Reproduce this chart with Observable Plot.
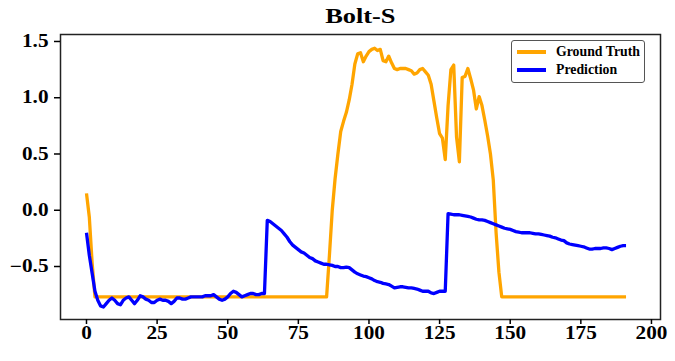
<!DOCTYPE html>
<html>
<head>
<meta charset="utf-8">
<script src="https://cdn.jsdelivr.net/npm/d3@7"></script>
<script src="https://cdn.jsdelivr.net/npm/@observablehq/plot@0.6"></script>
<style>
  html, body { margin: 0; padding: 0; background: #fff; }
  #wrap { position: relative; width: 675px; height: 361px; font-family: "Liberation Serif", "DejaVu Serif", serif; }
  #title { height: 30px; width: 675px; text-align: center; font-weight: bold; font-size: 22px; line-height: 32px; padding-left: 45px; box-sizing: border-box; }
  #title span { display: inline-block; transform: scaleX(1.2); }
  #legend { position: absolute; left: 511px; top: 40px; width: 134px; height: 43px; border: 1px solid #555; border-radius: 3px; background: #fff; font-weight: bold; font-size: 13.8px; box-sizing: border-box; }
  .item { position: absolute; left: 5px; display: flex; align-items: center; }
  .sw { width: 29px; height: 3.5px; margin-right: 10px; }
  #chart svg text { font-size: 18px !important; font-weight: bold; fill: #000; }
</style>
</head>
<body>
<div id="wrap">
  <div id="title"><span>Bolt-S</span></div>
  <div id="chart"></div>
  <div id="legend">
    <div class="item" style="top:3px"><div class="sw" style="background:#FFA500"></div><span>Ground Truth</span></div>
    <div class="item" style="top:21px"><div class="sw" style="background:#0000FF"></div><span>Prediction</span></div>
  </div>
</div>
<script>
const seriesNames = ["Ground Truth", "Prediction"];
const seriesColors = ["#FFA500", "#0000FF"];
const xTicks = [0, 25, 50, 75, 100, 125, 150, 175, 200];
const yTicks = [-0.5, 0.0, 0.5, 1.0, 1.5];

const groundTruth = [
  0.15, -0.06, -0.47,
  -0.77,-0.77,-0.77,-0.77,-0.77,-0.77,-0.77,-0.77,-0.77,-0.77,
  -0.77,-0.77,-0.77,-0.77,-0.77,-0.77,-0.77,-0.77,-0.77,-0.77,
  -0.77,-0.77,-0.77,-0.77,-0.77,-0.77,-0.77,-0.77,-0.77,-0.77,
  -0.77,-0.77,-0.77,-0.77,-0.77,-0.77,-0.77,-0.77,-0.77,-0.77,
  -0.77,-0.77,-0.77,-0.77,-0.77,-0.77,-0.77,-0.77,-0.77,-0.77,
  -0.77,-0.77,-0.77,-0.77,-0.77,-0.77,-0.77,-0.77,-0.77,-0.77,
  -0.77,-0.77,-0.77,-0.77,-0.77,-0.77,-0.77,-0.77,-0.77,-0.77,
  -0.77,-0.77,-0.77,-0.77,-0.77,-0.77,-0.77,-0.77,-0.77,-0.77,
  -0.77,-0.77,-0.77,
  -0.40, 0.00, 0.28, 0.50, 0.70, 0.79, 0.87, 0.98, 1.12, 1.30,
  1.39, 1.40, 1.32, 1.37, 1.41, 1.43, 1.44, 1.42, 1.43, 1.33,
  1.32, 1.37, 1.31, 1.26, 1.25, 1.26, 1.26, 1.26, 1.25, 1.24,
  1.21, 1.22, 1.25, 1.26, 1.23, 1.20, 1.12, 0.97, 0.82, 0.68,
  0.64, 0.45, 0.93, 1.25, 1.29, 0.65, 0.43, 1.18, 1.19, 1.26,
  1.17, 1.07, 0.90, 1.01, 0.93, 0.80, 0.66, 0.50, 0.27, -0.20,
  -0.55,
  -0.77,-0.77,-0.77,-0.77,-0.77,-0.77,-0.77,-0.77,-0.77,-0.77,
  -0.77,-0.77,-0.77,-0.77,-0.77,-0.77,-0.77,-0.77,-0.77,-0.77,
  -0.77,-0.77,-0.77,-0.77,-0.77,-0.77,-0.77,-0.77,-0.77,-0.77,
  -0.77,-0.77,-0.77,-0.77,-0.77,-0.77,-0.77,-0.77,-0.77,-0.77,
  -0.77,-0.77,-0.77,-0.77,-0.77
];

const prediction = [
  -0.20,-0.40,-0.56,-0.72,-0.80,-0.85,-0.86,-0.83,-0.80,-0.78,
  -0.80,-0.83,-0.84,-0.80,-0.78,-0.77,-0.80,-0.83,-0.80,-0.76,
  -0.77,-0.79,-0.80,-0.82,-0.82,-0.80,-0.79,-0.80,-0.80,-0.81,
  -0.83,-0.81,-0.78,-0.78,-0.79,-0.79,-0.78,-0.77,-0.77,-0.77,
  -0.77,-0.77,-0.76,-0.76,-0.76,-0.75,-0.77,-0.79,-0.80,-0.79,
  -0.77,-0.74,-0.72,-0.73,-0.75,-0.77,-0.76,-0.75,-0.74,-0.74,
  -0.75,-0.75,-0.74,-0.74,-0.09,-0.10,-0.12,-0.14,-0.16,-0.18,
  -0.21,-0.24,-0.28,-0.31,-0.33,-0.35,-0.37,-0.38,-0.40,-0.42,
  -0.43,-0.45,-0.46,-0.47,-0.48,-0.48,-0.485,-0.49,-0.50,-0.50,
  -0.51,-0.51,-0.505,-0.51,-0.53,-0.55,-0.565,-0.575,-0.585,-0.59,
  -0.60,-0.61,-0.625,-0.635,-0.64,-0.65,-0.655,-0.66,-0.675,-0.69,
  -0.685,-0.68,-0.68,-0.685,-0.69,-0.69,-0.695,-0.70,-0.71,-0.72,
  -0.72,-0.72,-0.735,-0.74,-0.73,-0.72,-0.72,-0.72,-0.03,-0.035,
  -0.04,-0.04,-0.04,-0.045,-0.05,-0.055,-0.06,-0.07,-0.08,-0.085,
  -0.085,-0.09,-0.10,-0.11,-0.12,-0.13,-0.14,-0.15,-0.16,-0.165,
  -0.17,-0.18,-0.19,-0.195,-0.20,-0.20,-0.20,-0.20,-0.205,-0.21,
  -0.21,-0.215,-0.22,-0.225,-0.23,-0.24,-0.245,-0.255,-0.265,-0.27,
  -0.29,-0.30,-0.305,-0.31,-0.315,-0.32,-0.325,-0.335,-0.345,-0.345,
  -0.34,-0.34,-0.34,-0.335,-0.335,-0.34,-0.35,-0.34,-0.33,-0.32,
  -0.315,-0.315
];

const rows = [];
groundTruth.forEach((v, i) => rows.push({x: i, y: v, s: seriesNames[0]}));
prediction.forEach((v, i) => rows.push({x: i, y: v, s: seriesNames[1]}));

const fam = "Liberation Serif, DejaVu Serif, serif";

const chart = Plot.plot({
  width: 675,
  height: 331,
  marginTop: 4,
  marginLeft: 60,
  marginRight: 15,
  marginBottom: 42,
  style: {fontFamily: fam, fontWeight: "bold", fontSize: "18px", color: "#000", background: "#fff"},
  x: {domain: [-9.2, 203.2]},
  y: {domain: [-0.971, 1.562]},
  color: {domain: seriesNames, range: seriesColors},
  marks: [
    Plot.line(rows, {x: "x", y: "y", z: "s", stroke: "s", strokeWidth: 3.3, strokeLinejoin: "round", strokeLinecap: "butt"}),
    Plot.frame({stroke: "#222", strokeWidth: 1.5}),
    Plot.axisX({ticks: xTicks, tickSize: 5, tickPadding: 2, label: null, strokeWidth: 1.5, tickFormat: d3.format("d")}),
    Plot.axisY({ticks: yTicks, tickSize: 6, tickPadding: 6, label: null, strokeWidth: 1.5, tickFormat: d3.format(".1f")})
  ]
});
document.getElementById("chart").appendChild(chart);
// widen tick label glyphs to match the reference's proportions
chart.querySelectorAll("text").forEach(el => {
  const len = el.getComputedTextLength();
  if (len > 0) {
    el.setAttribute("textLength", (len * 1.18).toFixed(2));
    el.setAttribute("lengthAdjust", "spacingAndGlyphs");
  }
});
</script>
</body>
</html>
